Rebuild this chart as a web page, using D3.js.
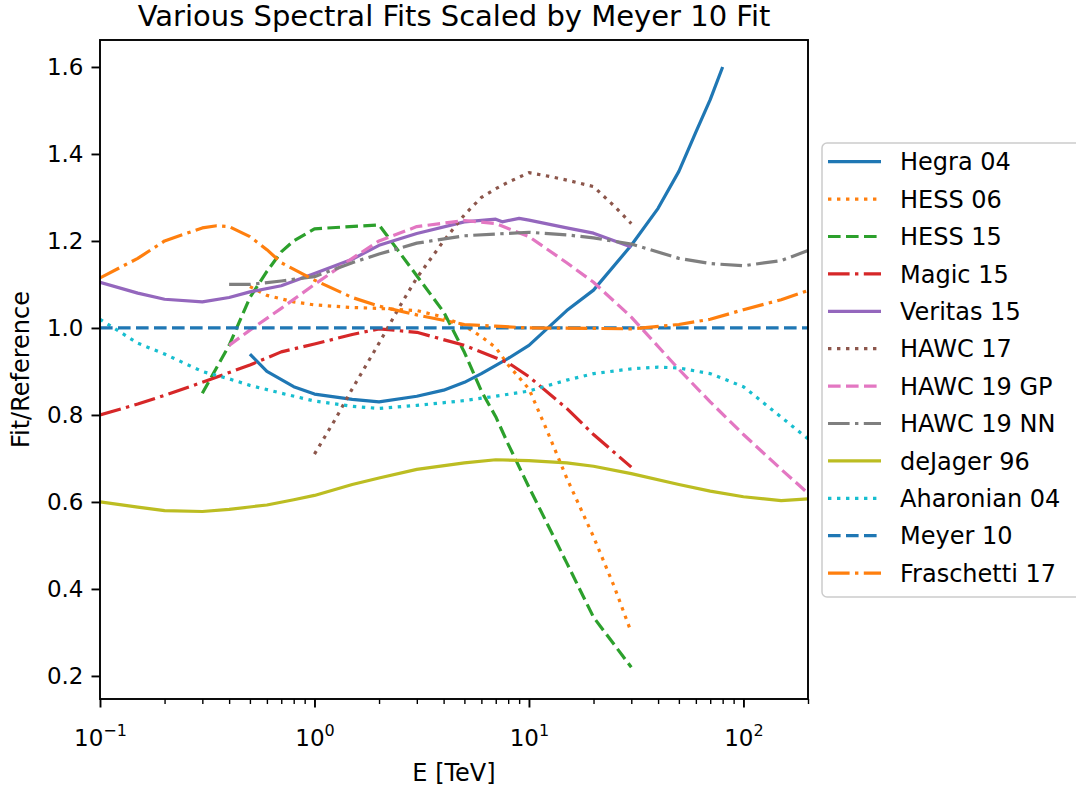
<!DOCTYPE html>
<html><head><meta charset="utf-8">
<script src="https://cdn.jsdelivr.net/npm/d3@7"></script>
<style>
body{margin:0;background:#fff}
svg{display:block}
text{font-family:"DejaVu Sans",sans-serif;fill:#000}
</style>
</head><body>
<svg id="chart" width="1076" height="791"></svg>
<script>
// ---------------- data ----------------
const titleText = "Various Spectral Fits Scaled by Meyer 10 Fit";
const xLabel = "E [TeV]";
const yLabel = "Fit/Reference";
const xMajorTicks = [0.1, 1, 10, 100];
const xTickExponents = ["\u22121", "0", "1", "2"];
const yTicks = [0.2, 0.4, 0.6, 0.8, 1.0, 1.2, 1.4, 1.6];
const yTickLabels = ["0.2", "0.4", "0.6", "0.8", "1.0", "1.2", "1.4", "1.6"];

const seriesNames = ["Hegra 04","HESS 06","HESS 15","Magic 15","Veritas 15","HAWC 17",
  "HAWC 19 GP","HAWC 19 NN","deJager 96","Aharonian 04","Meyer 10","Fraschetti 17"];

const hegraE = [0.5,0.6,0.8,1,1.5,2,3,4,5,6,8,10,15,20,30,40,50,60,70,80];
const hegraV = [0.94,0.90,0.865,0.848,0.836,0.83,0.843,0.857,0.875,0.895,0.93,0.96,1.04,1.087,1.19,1.275,1.36,1.45,1.525,1.60];

const hess06E = [0.5,0.6,0.8,1,1.5,2,3,4,5,6,7,8,10,12,15,20,25,30];
const hess06V = [1.095,1.075,1.06,1.053,1.047,1.045,1.04,1.025,1.005,0.98,0.955,0.915,0.86,0.77,0.655,0.52,0.405,0.30];

const hess15E = [0.3,0.4,0.5,0.6,0.7,0.8,1,2,3,4,5,6,7,8,10,15,20,30];
const hess15V = [0.85,0.96,1.07,1.13,1.175,1.2,1.228,1.237,1.12,1.037,0.944,0.855,0.796,0.733,0.634,0.46,0.335,0.22];

const magicE = [0.1,0.15,0.2,0.3,0.5,0.7,1,1.5,2,3,5,8,10,15,20,30];
const magicV = [0.80,0.825,0.845,0.875,0.915,0.945,0.963,0.985,0.998,0.99,0.96,0.92,0.888,0.815,0.755,0.68];

const veritasE = [0.1,0.15,0.2,0.3,0.4,0.5,0.7,1,1.5,2,3,5,7,7.5,9,10,15,20,30];
const veritasV = [1.105,1.08,1.066,1.06,1.07,1.083,1.097,1.125,1.158,1.19,1.217,1.244,1.25,1.244,1.252,1.248,1.23,1.218,1.186];

const hawc17E = [1,1.25,1.5,2,2.5,3,4,5,6,7,8,10,12,15,20,25,30];
const hawc17V = [0.71,0.79,0.86,0.965,1.05,1.115,1.2,1.26,1.30,1.32,1.335,1.357,1.35,1.34,1.325,1.28,1.24];

const hawc19gpE = [0.4,0.5,0.7,1,1.5,2,3,5,7,10,15,20,30,50,70,100,150,200];
const hawc19gpV = [0.96,0.995,1.045,1.10,1.16,1.20,1.233,1.247,1.24,1.21,1.15,1.105,1.025,0.905,0.83,0.755,0.675,0.62];

const hawc19nnE = [0.4,0.5,0.7,1,1.5,2,3,5,7,10,15,20,30,50,70,100,150,200];
const hawc19nnV = [1.10,1.10,1.108,1.118,1.15,1.17,1.195,1.212,1.216,1.22,1.214,1.207,1.193,1.16,1.148,1.143,1.155,1.178];

const dejagerE = [0.1,0.15,0.2,0.3,0.4,0.6,0.8,1,1.5,2,3,5,7,10,15,20,30,50,70,100,150,200];
const dejagerV = [0.60,0.588,0.58,0.578,0.583,0.593,0.605,0.615,0.64,0.655,0.675,0.69,0.697,0.695,0.69,0.682,0.665,0.64,0.625,0.612,0.603,0.607];

const aharonianE = [0.1,0.15,0.2,0.3,0.4,0.5,0.7,1,1.5,2,3,5,7,10,15,20,30,40,50,70,100,150,200];
const aharonianV = [1.02,0.965,0.94,0.90,0.883,0.868,0.85,0.832,0.82,0.815,0.822,0.833,0.843,0.855,0.88,0.895,0.906,0.91,0.908,0.895,0.865,0.795,0.745];

const meyerE = [0.1,200];
const meyerV = [1.0,1.0];

const fraschettiE = [0.1,0.15,0.2,0.3,0.35,0.4,0.5,0.6,0.7,1,1.5,2,3,5,7,10,20,30,50,70,100,150,200];
const fraschettiV = [1.115,1.16,1.2,1.23,1.235,1.233,1.21,1.18,1.15,1.11,1.07,1.05,1.03,1.008,1.004,1.0,0.999,0.998,1.008,1.02,1.042,1.065,1.086];

// ---------------- styles ----------------
const seriesData = [
  [hegraE, hegraV], [hess06E, hess06V], [hess15E, hess15V], [magicE, magicV],
  [veritasE, veritasV], [hawc17E, hawc17V], [hawc19gpE, hawc19gpV], [hawc19nnE, hawc19nnV],
  [dejagerE, dejagerV], [aharonianE, aharonianV], [meyerE, meyerV], [fraschettiE, fraschettiV]
];
const colors = ["#1f77b4","#ff7f0e","#2ca02c","#d62728","#9467bd","#8c564b",
  "#e377c2","#7f7f7f","#bcbd22","#17becf","#1f77b4","#ff7f0e"];
const LW = 3.2;
const dashStyles = {
  solid: null,
  dotted: [3.4, 5.6],
  dashed: [12.6, 5.4],
  dashdot: [21.6, 5.4, 3.4, 5.4]
};
const styles = ["solid","dotted","dashed","dashdot","solid","dotted",
  "dashed","dashdot","solid","dotted","dashed","dashdot"];

// ---------------- layout ----------------
const svg = d3.select("#chart");
const L = 100, R = 808, T = 40, B = 699;

const x = d3.scaleLog().domain([0.1, 200]).range([L, R]);
const y = d3.scaleLinear().domain([0.147, 1.662]).range([B, T]);

svg.append("defs").append("clipPath").attr("id","clip")
  .append("rect").attr("x", L).attr("y", T).attr("width", R - L).attr("height", B - T);

// lines
const line = d3.line().x(d => x(d[0])).y(d => y(d[1]));
const gLines = svg.append("g").attr("clip-path","url(#clip)");
seriesData.forEach((s, i) => {
  const pts = s[0].map((e, j) => [e, s[1][j]]);
  const ds = dashStyles[styles[i]];
  gLines.append("path")
    .attr("d", line(pts))
    .attr("fill","none")
    .attr("stroke", colors[i])
    .attr("stroke-width", LW)
    .attr("stroke-linecap", "butt")
    .attr("stroke-linejoin", "round")
    .attr("stroke-dasharray", ds ? ds.join(",") : null);
});

// axes
const minorTicks = [];
[0.1, 1, 10, 100].forEach(d => { for (let k = 2; k <= 9; k++) { const v = d * k; if (v <= 200.0001) minorTicks.push(v); } });

const xMinor = svg.append("g").attr("transform", `translate(0,${B})`)
  .call(d3.axisBottom(x).tickValues(minorTicks).tickSize(5).tickFormat(""));
xMinor.select(".domain").remove();
xMinor.selectAll("line").attr("stroke","#000").attr("stroke-width",1.4);

const xMajor = svg.append("g").attr("transform", `translate(0,${B})`)
  .call(d3.axisBottom(x).tickValues(xMajorTicks).tickSize(8.5).tickFormat(""));
xMajor.select(".domain").remove();
xMajor.selectAll("line").attr("stroke","#000").attr("stroke-width",1.9);
xMajor.selectAll(".tick").each(function(d, i) {
  const t = d3.select(this).append("text")
    .attr("y", 47).attr("text-anchor","middle")
    .style("font-size","23px").attr("fill","#000");
  t.append("tspan").text("10");
  t.append("tspan").attr("dy", -10).style("font-size","16px").text(xTickExponents[i]);
});

const yAxis = svg.append("g").attr("transform", `translate(${L},0)`)
  .call(d3.axisLeft(y).tickValues(yTicks).tickSize(8.5).tickPadding(8)
    .tickFormat((d, i) => yTickLabels[i]));
yAxis.select(".domain").remove();
yAxis.selectAll("line").attr("stroke","#000").attr("stroke-width",1.9);
yAxis.selectAll("text").style("font-size","23px").style("font-family","DejaVu Sans").attr("fill","#000");

// frame
svg.append("rect").attr("x", L).attr("y", T).attr("width", R - L).attr("height", B - T)
  .attr("fill","none").attr("stroke","#000").attr("stroke-width",1.9);

// title and labels
svg.append("text").attr("x", (L + R) / 2).attr("y", 26).attr("text-anchor","middle")
  .style("font-size","29px").text(titleText);
svg.append("text").attr("x", (L + R) / 2).attr("y", 781).attr("text-anchor","middle")
  .style("font-size","24px").text(xLabel);
svg.append("text").attr("transform", `translate(29,${(T + B) / 2}) rotate(-90)`)
  .attr("text-anchor","middle").style("font-size","24px").text(yLabel);

// legend
const legX = 822, legY = 143, legH = 454, step = 37.4;
svg.append("rect").attr("x", legX).attr("y", legY).attr("width", 300).attr("height", legH)
  .attr("rx", 5).attr("fill","#fff").attr("fill-opacity",0.8)
  .attr("stroke","#cccccc").attr("stroke-width",1.5);
const gLeg = svg.append("g");
seriesNames.forEach((name, i) => {
  const cy = 161.7 + i * step;
  const ds = dashStyles[styles[i]];
  gLeg.append("line").attr("x1", 828).attr("x2", 881).attr("y1", cy).attr("y2", cy)
    .attr("stroke", colors[i]).attr("stroke-width", LW)
    .attr("stroke-dasharray", ds ? ds.join(",") : null);
  gLeg.append("text").attr("x", 900).attr("y", cy).attr("dy","0.36em")
    .style("font-size","24px").text(name);
});
</script>
</body></html>
